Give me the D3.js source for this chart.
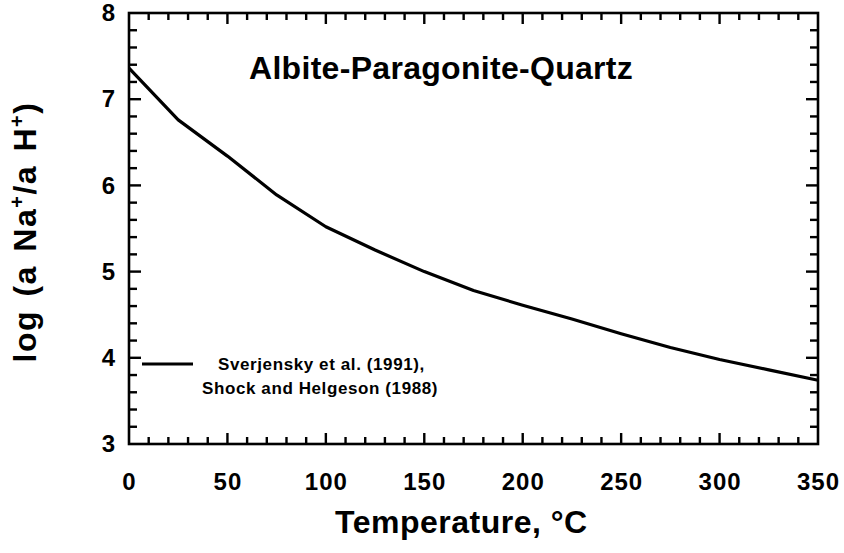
<!DOCTYPE html>
<html><head><meta charset="utf-8">
<script src="https://cdn.jsdelivr.net/npm/d3@7"></script>
<style>body{margin:0;background:#fff}svg text{font-family:"Liberation Sans",Arial,sans-serif;font-weight:bold;fill:#000}</style>
</head><body><svg id="c" width="844" height="553"></svg>
<script>
const temperatures = [0, 25, 50, 75, 100, 125, 150, 175, 200, 225, 250, 275, 300, 325, 350];
const logRatio = [7.36, 6.76, 6.34, 5.89, 5.52, 5.25, 5.00, 4.78, 4.61, 4.45, 4.28, 4.12, 3.98, 3.86, 3.74];
const xTickLabels = [0, 50, 100, 150, 200, 250, 300, 350];
const yTickLabels = [3, 4, 5, 6, 7, 8];
const titleText = "Albite-Paragonite-Quartz";
const legendLines = ["Sverjensky et al. (1991),", "Shock and Helgeson (1988)"];

const svg = d3.select("#c");
const L = 129, R = 818, T = 13, B = 444;
const x = d3.scaleLinear().domain([0, 350]).range([L, R]);
const y = d3.scaleLinear().domain([3, 8]).range([B, T]);

const xAll = d3.range(10, 350, 10);
const yAll = d3.range(1, 25).map(i => +(3 + i * 0.2).toFixed(1));

// frame
svg.append("rect").attr("x", L).attr("y", T).attr("width", R - L).attr("height", B - T)
  .attr("fill", "none").attr("stroke", "#000").attr("stroke-width", 2.6);

function styleAxis(sel) {
  sel.select(".domain").remove();
  sel.selectAll(".tick line").remove();
  sel.selectAll(".tick text").attr("font-size", 24).attr("fill", "#000")
    .style("font-family", '"Liberation Sans",Arial,sans-serif').style("font-weight", "bold");
}
svg.append("g").attr("transform", `translate(0,${B})`)
  .call(d3.axisBottom(x).tickValues(xTickLabels).tickSize(0).tickPadding(29))
  .call(styleAxis).selectAll(".tick text").attr("letter-spacing", 1);
svg.append("g").attr("transform", `translate(${L},0)`)
  .call(d3.axisLeft(y).tickValues(yTickLabels).tickSize(0).tickPadding(14).tickFormat(d3.format("d")))
  .call(styleAxis);

// inward ticks drawn as small filled rects
const tickW = 2.4;
const xt = svg.append("g").attr("fill", "#000");
xAll.forEach(v => {
  const len = (v % 50 === 0) ? 11 : 7;
  xt.append("rect").attr("x", x(v) - tickW / 2).attr("y", B - len).attr("width", tickW).attr("height", len);
  xt.append("rect").attr("x", x(v) - tickW / 2).attr("y", T).attr("width", tickW).attr("height", len);
});
yAll.forEach(v => {
  const len = (Math.abs(v - Math.round(v)) < 1e-6) ? 12 : 8;
  xt.append("rect").attr("x", L).attr("y", y(v) - tickW / 2).attr("width", len).attr("height", tickW);
  xt.append("rect").attr("x", R - len).attr("y", y(v) - tickW / 2).attr("width", len).attr("height", tickW);
});

// curve
const pts = temperatures.map((t, i) => [t, logRatio[i]]);
svg.append("path").datum(pts)
  .attr("d", d3.line().x(d => x(d[0])).y(d => y(d[1])).curve(d3.curveLinear))
  .attr("fill", "none").attr("stroke", "#000").attr("stroke-width", 3.2).attr("stroke-linejoin", "round");

// title
svg.append("text").attr("x", 249).attr("y", 79).attr("font-size", 32).attr("letter-spacing", 0.3).text(titleText);

// legend
svg.append("line").attr("x1", 142).attr("x2", 193).attr("y1", 364).attr("y2", 364)
  .attr("stroke", "#000").attr("stroke-width", 3);
svg.append("text").attr("x", 218).attr("y", 370).attr("font-size", 17).attr("letter-spacing", 0.6).text(legendLines[0]);
svg.append("text").attr("x", 202).attr("y", 394).attr("font-size", 17).attr("letter-spacing", 0.6).text(legendLines[1]);

// axis titles
svg.append("text").attr("x", 335).attr("y", 533).attr("font-size", 32).attr("letter-spacing", 0.5).text("Temperature, °C");
const yl = svg.append("text").attr("transform", "translate(36,232) rotate(-90)")
  .attr("text-anchor", "middle").attr("font-size", 32).attr("letter-spacing", 1.5).attr("word-spacing", 3);
yl.append("tspan").text("log (a Na");
yl.append("tspan").attr("dy", -12).attr("font-size", 20).text("+");
yl.append("tspan").attr("dy", 12).text("/a H");
yl.append("tspan").attr("dy", -12).attr("font-size", 20).text("+");
yl.append("tspan").attr("dy", 12).text(")");
</script></body></html>
